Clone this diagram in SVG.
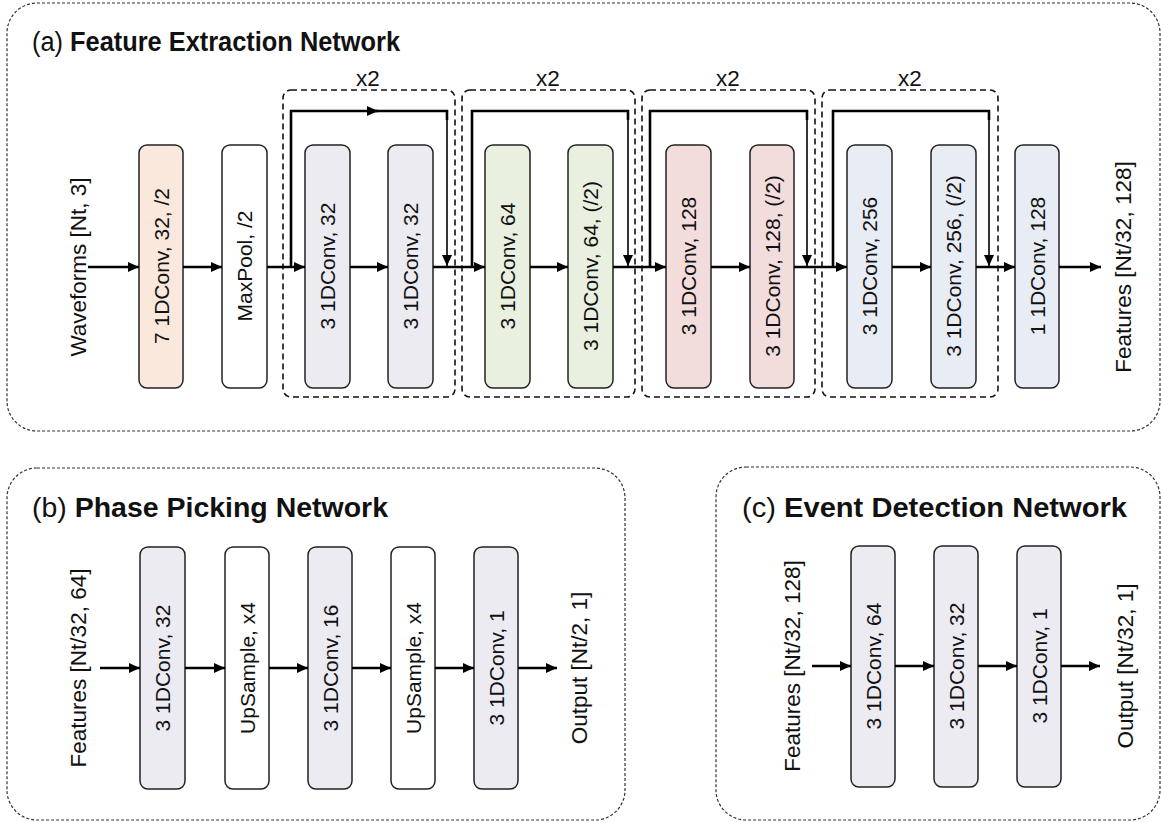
<svg xmlns="http://www.w3.org/2000/svg" width="1161" height="822" viewBox="0 0 1161 822">
<style>
.panel{fill:none;stroke:#333;stroke-width:1.2;stroke-dasharray:3 2}
.box{fill:none;stroke:#111;stroke-width:1.6;stroke-dasharray:6 4}
.node{stroke:#222;stroke-width:1.5}
.w{fill:#ffffff}.o{fill:#fbe8dc}.p{fill:#ecebf2}.g{fill:#e9f0df}.r{fill:#f3dcdc}.b{fill:#e8ecf4}
.t{font-family:"Liberation Sans",Arial,sans-serif;font-size:21px;fill:#111}
.l{font-size:22.5px}
.ttl{font-family:"Liberation Sans",Arial,sans-serif;font-size:27px;fill:#111}
.c{stroke:#000;stroke-width:2.6;fill:none}
.s{stroke:#000;stroke-width:1.6;fill:none}
</style>
<defs>
<marker id="ah" markerUnits="userSpaceOnUse" markerWidth="12" markerHeight="10" refX="11" refY="5" orient="auto"><path d="M0,0 L11,5 L0,10 z" fill="#000"/></marker>
</defs>
<!-- panels -->
<rect class="panel" x="7" y="3" width="1153" height="428" rx="30"/>
<rect class="panel" x="7" y="468" width="618" height="352" rx="30"/>
<rect class="panel" x="716" y="467" width="444" height="353" rx="30"/>
<text class="ttl" x="32" y="51" textLength="368" lengthAdjust="spacingAndGlyphs">(a) <tspan font-weight="bold">Feature Extraction Network</tspan></text>
<text class="ttl" x="32" y="517" textLength="356" lengthAdjust="spacingAndGlyphs">(b) <tspan font-weight="bold">Phase Picking Network</tspan></text>
<text class="ttl" x="742" y="517" textLength="385" lengthAdjust="spacingAndGlyphs">(c) <tspan font-weight="bold">Event Detection Network</tspan></text>
<!-- repeat boxes -->
<g id="repeat-boxes">
<rect class="box" x="283" y="90" width="172" height="307" rx="8"/>
<rect class="box" x="462" y="90" width="173" height="307" rx="8"/>
<rect class="box" x="642" y="90" width="173" height="307" rx="8"/>
<rect class="box" x="822" y="90" width="176" height="307" rx="8"/>
<text class="t l" x="368" y="86" text-anchor="middle">x2</text>
<text class="t l" x="548" y="86" text-anchor="middle">x2</text>
<text class="t l" x="728" y="86" text-anchor="middle">x2</text>
<text class="t l" x="910" y="86" text-anchor="middle">x2</text>
</g>
<!-- labels -->
<g id="io-labels" class="t l" text-anchor="middle" dominant-baseline="central">
<text transform="translate(78,267) rotate(-90)">Waveforms [Nt, 3]</text>
<text transform="translate(1123,267) rotate(-90)">Features [Nt/32, 128]</text>
<text transform="translate(78,668) rotate(-90)">Features [Nt/32, 64]</text>
<text transform="translate(579,668) rotate(-90)">Output [Nt/2, 1]</text>
<text transform="translate(792,666) rotate(-90)">Features [Nt/32, 128]</text>
<text transform="translate(1125,666) rotate(-90)">Output [Nt/32, 1]</text>
</g>
<!-- panel a nodes -->
<g id="a1"><rect class="node o" x="139" y="145" width="44" height="243" rx="8"/><text class="t" text-anchor="middle" dominant-baseline="central" transform="translate(161,266) rotate(-90)">7 1DConv, 32, /2</text></g>
<g id="a2"><rect class="node w" x="222" y="145" width="45" height="243" rx="8"/><text class="t" text-anchor="middle" dominant-baseline="central" transform="translate(244.5,266) rotate(-90)">MaxPool, /2</text></g>
<g id="a3"><rect class="node p" x="305" y="145" width="45" height="243" rx="8"/><text class="t" text-anchor="middle" dominant-baseline="central" transform="translate(327.5,266) rotate(-90)">3 1DConv, 32</text></g>
<g id="a4"><rect class="node p" x="388" y="145" width="45" height="243" rx="8"/><text class="t" text-anchor="middle" dominant-baseline="central" transform="translate(410.5,266) rotate(-90)">3 1DConv, 32</text></g>
<g id="a5"><rect class="node g" x="485" y="145" width="45" height="243" rx="8"/><text class="t" text-anchor="middle" dominant-baseline="central" transform="translate(507.5,266) rotate(-90)">3 1DConv, 64</text></g>
<g id="a6"><rect class="node g" x="568" y="145" width="45" height="243" rx="8"/><text class="t" text-anchor="middle" dominant-baseline="central" transform="translate(590.5,266) rotate(-90)">3 1DConv, 64, (/2)</text></g>
<g id="a7"><rect class="node r" x="666" y="145" width="45" height="243" rx="8"/><text class="t" text-anchor="middle" dominant-baseline="central" transform="translate(688.5,266) rotate(-90)">3 1DConv, 128</text></g>
<g id="a8"><rect class="node r" x="750" y="145" width="44" height="243" rx="8"/><text class="t" text-anchor="middle" dominant-baseline="central" transform="translate(772,266) rotate(-90)">3 1DConv, 128, (/2)</text></g>
<g id="a9"><rect class="node b" x="847" y="145" width="45" height="243" rx="8"/><text class="t" text-anchor="middle" dominant-baseline="central" transform="translate(869.5,266) rotate(-90)">3 1DConv, 256</text></g>
<g id="a10"><rect class="node b" x="931" y="145" width="45" height="243" rx="8"/><text class="t" text-anchor="middle" dominant-baseline="central" transform="translate(953.5,266) rotate(-90)">3 1DConv, 256, (/2)</text></g>
<g id="a11"><rect class="node b" x="1015" y="145" width="44" height="243" rx="8"/><text class="t" text-anchor="middle" dominant-baseline="central" transform="translate(1037,266) rotate(-90)">1 1DConv, 128</text></g>
<!-- panel b nodes -->
<g id="b1"><rect class="node p" x="140" y="547" width="45" height="242" rx="8"/><text class="t" text-anchor="middle" dominant-baseline="central" transform="translate(162.5,668) rotate(-90)">3 1DConv, 32</text></g>
<g id="b2"><rect class="node w" x="225" y="547" width="44" height="242" rx="8"/><text class="t" text-anchor="middle" dominant-baseline="central" transform="translate(247,668) rotate(-90)">UpSample, x4</text></g>
<g id="b3"><rect class="node p" x="308" y="547" width="44" height="242" rx="8"/><text class="t" text-anchor="middle" dominant-baseline="central" transform="translate(330,668) rotate(-90)">3 1DConv, 16</text></g>
<g id="b4"><rect class="node w" x="391" y="547" width="44" height="242" rx="8"/><text class="t" text-anchor="middle" dominant-baseline="central" transform="translate(413,668) rotate(-90)">UpSample, x4</text></g>
<g id="b5"><rect class="node p" x="474" y="547" width="44" height="242" rx="8"/><text class="t" text-anchor="middle" dominant-baseline="central" transform="translate(496,668) rotate(-90)">3 1DConv, 1</text></g>
<!-- panel c nodes -->
<g id="c1"><rect class="node p" x="851" y="546" width="44" height="241" rx="8"/><text class="t" text-anchor="middle" dominant-baseline="central" transform="translate(873,666) rotate(-90)">3 1DConv, 64</text></g>
<g id="c2"><rect class="node p" x="934" y="546" width="44" height="241" rx="8"/><text class="t" text-anchor="middle" dominant-baseline="central" transform="translate(956,666) rotate(-90)">3 1DConv, 32</text></g>
<g id="c3"><rect class="node p" x="1017" y="546" width="44" height="241" rx="8"/><text class="t" text-anchor="middle" dominant-baseline="central" transform="translate(1039,666) rotate(-90)">3 1DConv, 1</text></g>
<!-- connectors -->
<g id="connectors">
<g class="c">
<path d="M88,267 H139" marker-end="url(#ah)"/>
<path d="M183,267 H222" marker-end="url(#ah)"/>
<path d="M267,267 H305" marker-end="url(#ah)"/>
<path d="M350,267 H388" marker-end="url(#ah)"/>
<path d="M433,267 H485" marker-end="url(#ah)"/>
<path d="M530,267 H568" marker-end="url(#ah)"/>
<path d="M613,267 H666" marker-end="url(#ah)"/>
<path d="M711,267 H750" marker-end="url(#ah)"/>
<path d="M794,267 H847" marker-end="url(#ah)"/>
<path d="M892,267 H931" marker-end="url(#ah)"/>
<path d="M976,267 H1015" marker-end="url(#ah)"/>
<path d="M1059,267 H1101" marker-end="url(#ah)"/>
<path d="M291,267 V111 H378" marker-end="url(#ah)"/>
<path d="M370,111 H447 V120"/>
<path d="M472,267 V111 H628 V120"/>
<path d="M650,267 V111 H807 V120"/>
<path d="M833,267 V111 H989 V120"/>
<path d="M100,668 H140" marker-end="url(#ah)"/>
<path d="M185,668 H225" marker-end="url(#ah)"/>
<path d="M269,668 H308" marker-end="url(#ah)"/>
<path d="M352,668 H391" marker-end="url(#ah)"/>
<path d="M435,668 H474" marker-end="url(#ah)"/>
<path d="M518,668 H557" marker-end="url(#ah)"/>
<path d="M812,666 H851" marker-end="url(#ah)"/>
<path d="M895,666 H934" marker-end="url(#ah)"/>
<path d="M978,666 H1017" marker-end="url(#ah)"/>
<path d="M1061,666 H1100" marker-end="url(#ah)"/>
</g>
<g class="s">
<path d="M447,112 V266" marker-end="url(#ah)"/>
<path d="M628,112 V266" marker-end="url(#ah)"/>
<path d="M807,112 V266" marker-end="url(#ah)"/>
<path d="M989,112 V266" marker-end="url(#ah)"/>
</g>
</g>
</svg>
